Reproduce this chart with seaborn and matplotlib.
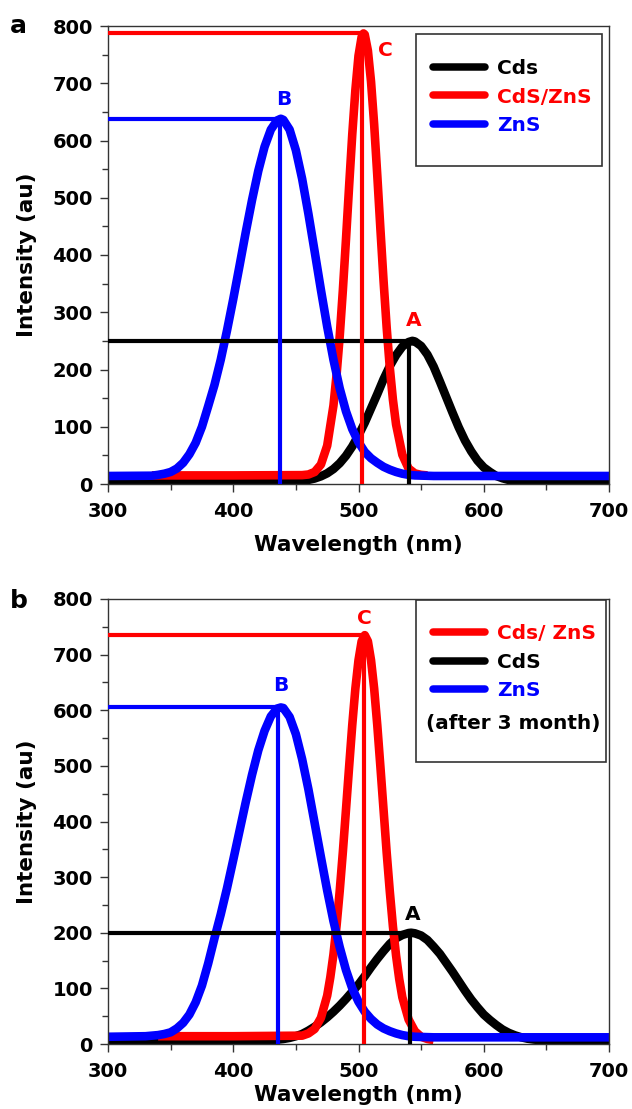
import matplotlib
matplotlib.use("Agg")
import matplotlib.pyplot as plt
import seaborn as sns
from matplotlib.lines import Line2D
from matplotlib.patches import Rectangle
from matplotlib.ticker import MultipleLocator

sns.set_style("ticks")
plt.rcParams["font.family"] = ["DejaVu Sans"]
plt.rcParams["font.weight"] = "bold"
plt.rcParams["axes.labelweight"] = "bold"
plt.rcParams["text.color"] = "black"
plt.rcParams["axes.labelcolor"] = "black"
plt.rcParams["xtick.color"] = "black"
plt.rcParams["ytick.color"] = "black"

RED, BLUE, BLACK = "#ff0000", "#0000ff", "#000000"

# ---------------- panel a : fresh samples ----------------
wl_cds_a = [300, 350, 400, 430, 440, 445, 450, 455, 460, 465, 470, 475, 480, 485, 490,
            495, 500, 505, 510, 515, 520, 525, 530, 535, 540, 543, 545, 550, 555, 560,
            565, 570, 575, 580, 585, 590, 595, 600, 605, 610, 615, 620, 625, 630, 635,
            640, 650, 660, 700]
int_cds_a = [3, 3, 3, 3.2, 3.5, 3.8, 4.4, 5.5, 7.1, 9.6, 13.4, 18.7, 26.2, 36.3, 49.3,
             65.5, 85, 107, 132, 157, 183, 206, 225, 240, 248, 250, 249, 241, 226, 205,
             179, 152, 125, 99, 76, 57, 41, 29, 21, 14, 10, 7, 5.4, 4.4, 3.7,
             3.3, 3, 3, 3]

wl_core_a = [335, 400, 455, 460, 465, 470, 475, 480, 482.5, 485, 487.5, 490, 492.5, 495,
             497.5, 500, 502.5, 504, 505, 507.5, 510, 512.5, 515, 517.5, 520, 522.5, 525,
             527.5, 530, 535, 540, 545, 550, 555]
int_core_a = [15, 15, 15.5, 16.6, 21, 34, 67, 137, 191, 258, 338, 427, 520, 610,
              688, 748, 781, 787, 785, 757, 703, 628, 539, 445, 355, 273, 203,
              147, 104, 51, 27, 18.5, 16, 15]

wl_zns_a = [300, 335, 340, 345, 350, 355, 360, 365, 370, 375, 380, 385, 390, 395, 400,
            405, 410, 415, 420, 425, 430, 435, 438, 440, 445, 450, 455, 460, 465, 470,
            475, 480, 485, 490, 495, 500, 505, 510, 515, 520, 525, 530, 535, 540, 545,
            560, 700]
int_zns_a = [14, 14.5, 16, 18, 21, 27, 37, 52, 72, 100, 136, 173, 217, 268, 323,
             381, 440, 496, 547, 589, 619, 635, 638, 636, 619, 583, 533, 472, 406, 339,
             275, 217, 167, 127, 96, 73, 56, 45, 37, 30, 25, 21, 18, 16, 15,
             14, 14]

# peak markers: (peak wavelength, peak intensity, drop-line wavelength)
peak_cds_a = (543, 250, 540.5)
peak_core_a = (504, 787, 502.5)
peak_zns_a = (438, 638, 437)

# ---------------- panel b : after 3 months ----------------
wl_core_b = [340, 400, 455, 460, 465, 470, 475, 477.5, 480, 482.5, 485, 487.5, 490, 492.5,
             495, 497.5, 500, 502.5, 505, 507.5, 510, 512.5, 515, 517.5, 520, 522.5, 525,
             527.5, 530, 532.5, 535, 540, 545, 550, 555, 560]
int_core_b = [14, 14, 15, 19, 27, 47, 87, 120, 161, 213, 275, 345, 421, 498,
              573, 639, 690, 724, 735, 724, 690, 639, 573, 498, 421, 344, 274,
              211, 159, 117, 84, 44, 23, 13, 9, 7]

wl_cds_b = [300, 400, 420, 430, 440, 445, 450, 455, 460, 465, 470, 475, 480, 485, 490,
            495, 500, 505, 510, 515, 520, 525, 530, 535, 540, 542, 545, 550, 555, 560,
            565, 570, 575, 580, 585, 590, 595, 600, 605, 610, 615, 620, 625, 630, 635,
            640, 650, 660, 700]
int_cds_b = [4, 4, 5, 6.5, 9, 11, 14, 18, 24, 31, 39, 48, 58, 69, 81,
             94, 107, 122, 138, 153, 167, 180, 190, 196, 199.5, 200, 199, 195, 187, 175,
             162, 146, 130, 113, 96, 80, 66, 53, 43, 34, 26, 20, 15.5, 12, 9.5,
             8, 6, 5, 4]

wl_zns_b = [300, 330, 340, 345, 350, 355, 360, 365, 370, 375, 380, 385, 390, 395, 400,
            405, 410, 415, 420, 425, 430, 435, 438, 440, 445, 450, 455, 460, 465, 470,
            475, 480, 485, 490, 495, 500, 505, 510, 515, 520, 525, 530, 535, 540, 545,
            560, 700]
int_zns_b = [13, 14, 16, 18, 21, 28, 38, 53, 75, 105, 145, 190, 233, 280, 331,
             383, 435, 484, 528, 563, 589, 603, 605, 604, 588, 557, 512, 458, 397, 336,
             276, 221, 174, 133, 100, 76, 58, 45, 35, 28, 23, 19, 16, 14, 13,
             12, 12]

peak_core_b = (505, 735, 504)
peak_cds_b = (541, 200, 541)
peak_zns_b = (437, 605, 435.5)

# peak letters: (text, wavelength, intensity at baseline, colour)
letters_a = [("C", 521.5, 748, RED), ("B", 440, 662, BLUE), ("A", 544.4, 276, RED)]
letters_b = [("C", 504.8, 755, RED), ("B", 437.7, 634, BLUE), ("A", 543.5, 223, BLACK)]

legend_a = [("Cds", BLACK), ("CdS/ZnS", RED), ("ZnS", BLUE)]
legend_b = [("Cds/ ZnS", RED), ("CdS", BLACK), ("ZnS", BLUE)]

X_TICKS = [300, 400, 500, 600, 700]
Y_TICKS = [0, 100, 200, 300, 400, 500, 600, 700, 800]

W, H = 632, 1109
fig = plt.figure(figsize=(W / 100, H / 100), dpi=100)
ax_a = fig.add_axes([108 / W, 1 - 484 / H, 501 / W, 458 / H])
ax_b = fig.add_axes([108 / W, 1 - 1044 / H, 501 / W, 445 / H])


def draw_panel(ax, curves, peaks, letters, legend_items, box, leg_anchor, xlabel_y):
    for wl, inten, color in curves:
        sns.lineplot(x=wl, y=inten, ax=ax, color=color, linewidth=6.2, sort=False,
                     estimator=None, solid_capstyle="butt", solid_joinstyle="round",
                     zorder=2)
    for (pw, pi, vw), color in peaks:
        ax.hlines(pi, X_TICKS[0], pw, color=color, lw=3, zorder=4)
        ax.vlines(vw, 0, pi, color=color, lw=3, zorder=4)
    for txt, wl, yv, color in letters:
        ax.text(wl, yv, txt, color=color, fontsize=14.5, fontweight="bold",
                ha="center", va="baseline", zorder=5)

    ax.set_xlim(300, 700)
    ax.set_ylim(0, 800)
    ax.set_xticks(X_TICKS)
    ax.set_yticks(Y_TICKS)
    ax.xaxis.set_minor_locator(MultipleLocator(50))
    ax.yaxis.set_minor_locator(MultipleLocator(50))
    ax.tick_params(which="major", direction="out", length=6, width=1, color="#333333",
                   labelsize=14, labelcolor="black", top=False, right=False)
    ax.tick_params(axis="x", which="major", pad=7)
    ax.tick_params(axis="y", which="major", pad=5)
    ax.tick_params(which="minor", direction="out", length=4, width=1, color="#333333",
                   top=False, right=False)
    for s in ax.spines.values():
        s.set_color("#333333")
        s.set_linewidth(1)
    ax.set_xlabel("Wavelength (nm)", fontsize=15.5, fontweight="bold", color="black")
    ax.set_ylabel("Intensity (au)", fontsize=15.5, fontweight="bold", color="black")
    ax.xaxis.set_label_coords(0.5, xlabel_y)
    ax.yaxis.set_label_coords(-0.142, 0.5)

    x0, y0, x1, y1 = box
    ax.add_patch(Rectangle((x0, y0), x1 - x0, y1 - y0, transform=ax.transAxes,
                           facecolor="white", edgecolor="#333333", lw=1.2,
                           zorder=6, clip_on=False))
    handles = [Line2D([], [], color=c, lw=5.4, solid_capstyle="round") for _, c in legend_items]
    leg = ax.legend(handles, [t for t, _ in legend_items], loc="upper left",
                    bbox_to_anchor=leg_anchor, frameon=False, borderpad=0,
                    handlelength=2.6, handletextpad=0.6, labelspacing=0.47,
                    prop={"size": 14.5, "weight": "bold"})
    leg.set_zorder(7)
    for t, (_, c) in zip(leg.get_texts(), legend_items):
        t.set_color(c)
    return leg


draw_panel(ax_a,
           [(wl_cds_a, int_cds_a, BLACK), (wl_core_a, int_core_a, RED), (wl_zns_a, int_zns_a, BLUE)],
           [(peak_cds_a, BLACK), (peak_core_a, RED), (peak_zns_a, BLUE)],
           letters_a, legend_a,
           (0.6148, 0.6943, 0.986, 0.9825), (0.6287, 0.9498), -0.112)

draw_panel(ax_b,
           [(wl_cds_b, int_cds_b, BLACK), (wl_core_b, int_core_b, RED), (wl_zns_b, int_zns_b, BLUE)],
           [(peak_cds_b, BLACK), (peak_core_b, RED), (peak_zns_b, BLUE)],
           letters_b, legend_b,
           (0.6148, 0.6337, 0.994, 0.9978), (0.6287, 0.9656), -0.0915)
ax_b.text(0.6347, 0.7213, "(after 3 month)", transform=ax_b.transAxes, fontsize=14.4,
          fontweight="bold", color="black", ha="left", va="center", zorder=8)

fig.text(18.5 / W, 1 - 33 / H, "a", fontsize=18, fontweight="bold", color="black",
         ha="center", va="baseline")
fig.text(19 / W, 1 - 608 / H, "b", fontsize=18, fontweight="bold", color="black",
         ha="center", va="baseline")

fig.savefig("out.png", dpi=100)
